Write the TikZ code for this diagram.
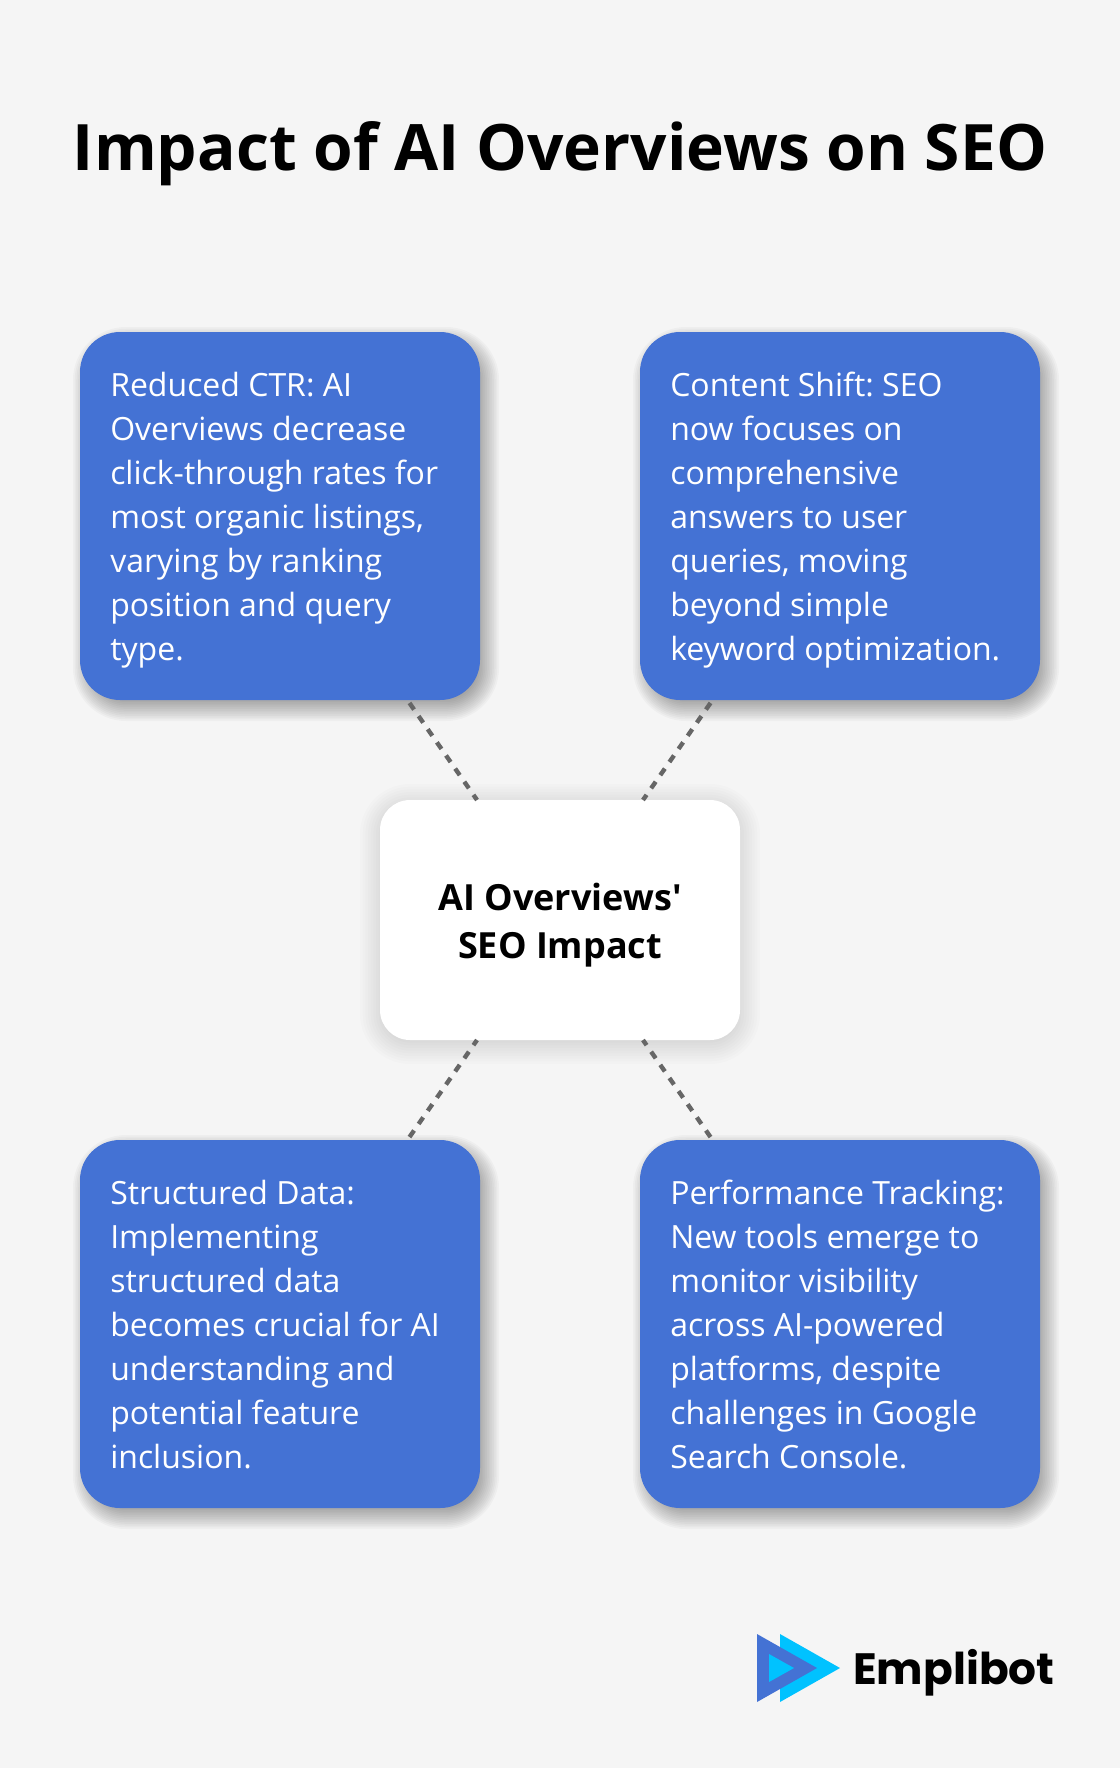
\documentclass[tikz,border=0pt]{standalone}
\usepackage{fontspec}
\setmainfont{Open Sans}[Ligatures=TeXOff]
\newfontfamily\logofont{Poppins}[Ligatures=TeXOff]
\usetikzlibrary{calc}
\definecolor{pagebg}{HTML}{F5F5F5}
\definecolor{cardblue}{HTML}{4472D4}
\definecolor{linkgrey}{HTML}{666666}
\definecolor{logocyan}{HTML}{00C2FF}
% x0 y0 x1 y1 (shadow box, px) radius half-spread opacity-per-layer
\newcommand{\softshadow}[7]{%
  \foreach \k in {0,...,15}{
    \pgfmathsetmacro{\g}{#6-2*#6*\k/15}
    \pgfmathsetmacro{\rr}{max(#5+\g,1)}
    \fill[black,opacity=#7,rounded corners=\rr*\u]
      ({#1-\g},{-(#2-\g)}) rectangle ({#3+\g},{-(#4+\g)});
  }
}
\def\u{0.0264583cm}
\tikzset{
  card/.style={fill=cardblue,rounded corners=40*\u,minimum width=400*\u,minimum height=368*\u,inner sep=0pt,outer sep=0pt},
  hub/.style={fill=white,rounded corners=30*\u,minimum width=360*\u,minimum height=240*\u,inner sep=0pt,outer sep=0pt},
  cardtext/.style={text=white,font=\fontsize{24.09pt}{33.1pt}\selectfont\frenchspacing,anchor=north west,align=left,inner sep=0pt},
  link/.style={draw=linkgrey,line width=3.3pt,dash pattern=on 6.02pt off 6.02pt,dash phase=9.33pt}
}
\begin{document}
\begin{tikzpicture}[x=\u,y=\u]
\useasboundingbox (0,0) rectangle (1120,-1768);
\fill[pagebg] (0,0) rectangle (1120,-1768);
\node (title) at (560,-154) {\fontsize{48.2pt}{58pt}\selectfont\bfseries Impact of AI Overviews on SEO};
% shadows
\softshadow{86}{340}{486}{708}{40}{13}{0.0266}
\softshadow{646}{340}{1046}{708}{40}{13}{0.0266}
\softshadow{86}{1148}{486}{1516}{40}{13}{0.0266}
\softshadow{646}{1148}{1046}{1516}{40}{13}{0.0266}
\softshadow{380}{804}{740}{1044}{30}{20}{0.011}
\node[card] (c1) at (280,-516) {};
\node[card] (c2) at (840,-516) {};
\node[card] (c3) at (280,-1324) {};
\node[card] (c4) at (840,-1324) {};
\node[hub] (hub) at (560,-920) {};
\node[cardtext] (t1) at (110,-372) {Reduced CTR: AI\\Overviews decrease\\click-through rates for\\most organic listings,\\varying by ranking\\position and query\\type.};
\node[cardtext] (t2) at (670,-372) {Content Shift: SEO\\now focuses on\\comprehensive\\answers to user\\queries, moving\\beyond simple\\keyword optimization.};
\node[cardtext] (t3) at (110,-1180) {Structured Data:\\Implementing\\structured data\\becomes crucial for AI\\understanding and\\potential feature\\inclusion.};
\node[cardtext] (t4) at (670,-1180) {Performance Tracking:\\New tools emerge to\\monitor visibility\\across AI-powered\\platforms, despite\\challenges in Google\\Search Console.};
\node[font=\fontsize{27.1pt}{36.5pt}\selectfont\bfseries,align=center] (hl) at (560,-925) {AI Overviews'\\SEO Impact};
\draw[link] (c1) -- (hub);
\draw[link] (c2) -- (hub);
\draw[link] (c3) -- (hub);
\draw[link] (c4) -- (hub);
% logo
\fill[logocyan] (780,-1634) -- (840,-1668) -- (780,-1702) -- cycle;
\fill[cardblue] (757,-1634) -- (817,-1668) -- (757,-1702) -- cycle;
\fill[logocyan] (769,-1654) -- (794,-1668) -- (769,-1682) -- cycle;
\node[anchor=base west,inner sep=0pt,font=\logofont\fontsize{33pt}{40pt}\selectfont\bfseries] (logo) at (853,-1684) {Emplibot};
\end{tikzpicture}
\end{document}
